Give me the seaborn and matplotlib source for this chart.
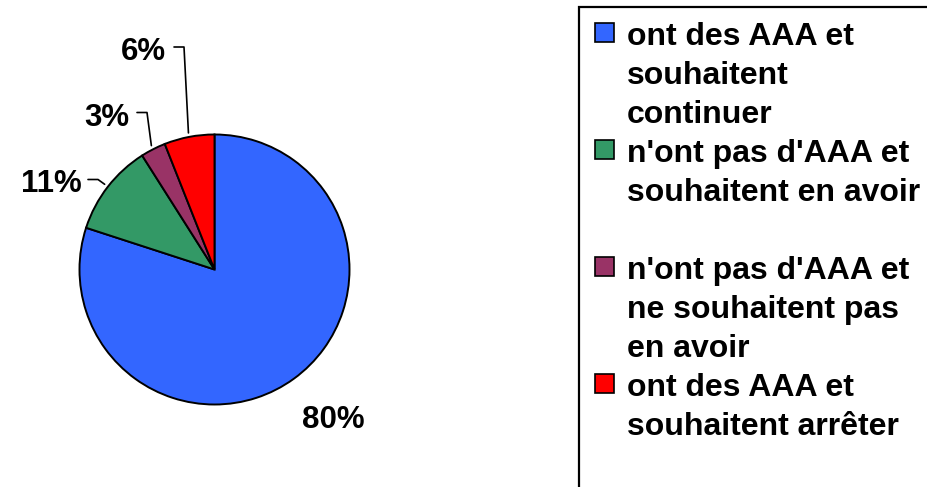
import matplotlib
matplotlib.use('Agg')
import matplotlib.pyplot as plt
import seaborn as sns
import numpy as np
from matplotlib.patches import Rectangle

# Survey answers (percent)
categories = [
    "ont des AAA et\nsouhaitent\ncontinuer",
    "n'ont pas d'AAA et\nsouhaitent en avoir",
    "n'ont pas d'AAA et\nne souhaitent pas\nen avoir",
    "ont des AAA et\nsouhaitent arrêter",
]
shares = [80, 11, 3, 6]
colors = ["#3366FF", "#339966", "#993366", "#FF0000"]

# label placement in pixels: (centre x, baseline y, leader start x or None)
label_layout = [(333, 428.5, None), (51, 192.5, 88), (106.5, 125.5, 137), (143.5, 60, 174)]

W, H = 928, 487
CX, CY, R = 214.5, 269.5, 135

sns.set_theme(style="white")
plt.rcParams['font.family'] = ['Liberation Sans', 'DejaVu Sans']

fig = plt.figure(figsize=(W / 100, H / 100), dpi=100)
ax = fig.add_axes([0, 0, 1, 1])

wedges, _ = ax.pie(shares, colors=colors, startangle=90, counterclock=False,
                   center=(CX, H - CY), radius=R,
                   wedgeprops=dict(edgecolor="black", linewidth=1.4))
ax.set_xlim(0, W)
ax.set_ylim(0, H)
ax.set_aspect('equal')
ax.axis('off')

# percentage labels with elbow leaders
for w, v, (lx, ly, sx) in zip(wedges, shares, label_layout):
    ax.text(lx, H - ly, f"{v}%", ha="center", va="baseline",
            fontsize=22.5, fontweight="bold", color="black")
    if sx is None:
        continue
    mid = np.deg2rad((w.theta1 + w.theta2) / 2)
    ex = CX + 1.03 * R * np.cos(mid)
    ey = (H - CY) + 1.03 * R * np.sin(mid)
    hy = H - (ly - 13)
    ax.plot([sx, sx + 10, ex], [hy, hy, ey], color="black", lw=1.2)

# legend box, each entry gets three line slots
ax.add_patch(Rectangle((579, -20), 400, H - 7 + 20, fill=False,
                       edgecolor="black", linewidth=1.6, clip_on=False))
pitch = 39
for i, (lab, col) in enumerate(zip(categories, colors)):
    base = 45 + pitch * 3 * i
    ax.add_patch(Rectangle((595, H - base + 3), 19, 19, facecolor=col,
                           edgecolor="black", linewidth=1.2))
    for k, line in enumerate(lab.split("\n")):
        ax.text(627, H - (base + pitch * k), line, ha="left", va="baseline",
                fontsize=23, fontweight="bold", color="black")

fig.savefig("out.png", dpi=100, facecolor="white")
